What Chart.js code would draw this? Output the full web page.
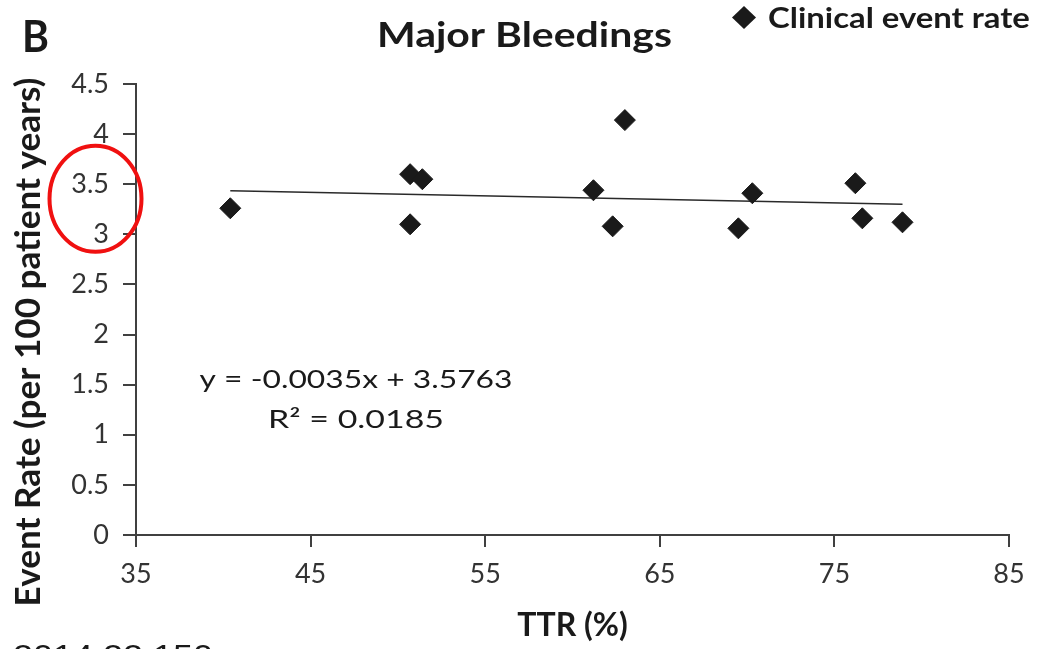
<!DOCTYPE html>
<html><head><meta charset="utf-8">
<script src="https://cdn.jsdelivr.net/npm/chart.js@4.4.0/dist/chart.umd.min.js"></script>
<style>html,body{margin:0;padding:0;background:#fff;overflow:hidden}#wrap{width:1048px;height:649px;position:relative}</style>
</head><body><div id="wrap"><canvas id="c" width="1048" height="649"></canvas></div>
<script>
// ---- data ----
const ttrValues  = [40.4, 50.7, 51.4, 50.7, 61.2, 62.3, 63.0, 69.5, 70.3, 76.2, 76.6, 78.9];
const eventRates = [3.26, 3.60, 3.55, 3.10, 3.44, 3.08, 4.14, 3.06, 3.41, 3.51, 3.16, 3.12];
const trendX = [40.4, 78.9];
const trendY = [3.435, 3.30];
const xTicks = [35, 45, 55, 65, 75, 85];
const yTicks = [0, 0.5, 1, 1.5, 2, 2.5, 3, 3.5, 4, 4.5];
const seriesName = 'Clinical event rate';
const chartTitle = 'Major Bleedings';
const panelLabel = 'B';
const xTitle = 'TTR (%)';
const yTitle = 'Event Rate (per 100 patient years)';
const equationLines = ['y = -0.0035x + 3.5763', 'R\u00B2 = 0.0185'];
const sourceNote = '2014;22:150';
const highlightRange = [3, 3.5];

const FAM = 'Lato, "Open Sans", sans-serif';
const INK = '#1a1a1a';
const AXIS = '#404040';

function drawFit(ctx, text, weight, family, x, baseline, targetW, capH, align, rot) {
  ctx.save();
  ctx.font = weight + ' 100px ' + family;
  const w100 = ctx.measureText(text).width;
  const size = 100 * targetW / w100;
  const sy = capH / (0.7165 * size);
  ctx.font = weight + ' ' + size + 'px ' + family;
  ctx.translate(x, baseline);
  if (rot) ctx.rotate(rot);
  ctx.scale(1, sy);
  ctx.textAlign = align || 'left';
  ctx.textBaseline = 'alphabetic';
  ctx.fillStyle = INK;
  ctx.fillText(text, 0, 0);
  ctx.restore();
}

const decor = {
  id: 'decor',
  afterDraw(chart) {
    const ctx = chart.ctx;
    const ys = chart.scales.y;
    drawFit(ctx, panelLabel, 'bold', FAM, 22, 52, 27, 32, 'left');
    drawFit(ctx, chartTitle, 'bold', FAM, 377, 47, 295, 25, 'left');
    ctx.save();
    ctx.fillStyle = INK;
    ctx.beginPath();
    ctx.moveTo(744 - 12, 17.5); ctx.lineTo(744, 17.5 - 11.5);
    ctx.lineTo(744 + 12, 17.5); ctx.lineTo(744, 17.5 + 11.5);
    ctx.closePath(); ctx.fill();
    ctx.restore();
    drawFit(ctx, seriesName, 'bold', FAM, 768, 28, 262, 21, 'left');
    drawFit(ctx, yTitle, 'bold', FAM, 40, 342, 529, 24, 'center', -Math.PI / 2);
    drawFit(ctx, equationLines[0], 'normal', FAM, 356, 388, 313, 18, 'center');
    drawFit(ctx, equationLines[1], 'normal', FAM, 356, 428, 176, 18, 'center');
    drawFit(ctx, sourceNote, 'normal', '"Liberation Sans", Arial, sans-serif', 13, 645 + 22, 200, 22, 'left');
    const cy = (ys.getPixelForValue(highlightRange[0]) + ys.getPixelForValue(highlightRange[1])) / 2 - 10.5;
    ctx.save();
    ctx.strokeStyle = '#f01010';
    ctx.lineWidth = 4;
    ctx.beginPath();
    ctx.ellipse(95.5, cy, 46, 53, 0, 0, Math.PI * 2);
    ctx.stroke();
    ctx.restore();
  }
};

const chart = new Chart(document.getElementById('c'), {
  type: 'scatter',
  data: {
    datasets: [
      {
        label: seriesName,
        data: ttrValues.map((x, i) => ({ x: x, y: eventRates[i] })),
        pointStyle: 'rectRot',
        pointRadius: 10.5,
        pointHoverRadius: 10.5,
        backgroundColor: INK,
        borderColor: INK,
        borderWidth: 1,
        order: 1
      },
      {
        label: 'trend',
        data: trendX.map((x, i) => ({ x: x, y: trendY[i] })),
        showLine: true,
        borderColor: '#2a2a2a',
        borderWidth: 1.6,
        pointRadius: 0,
        pointHoverRadius: 0,
        order: 2
      }
    ]
  },
  options: {
    responsive: false,
    animation: false,
    devicePixelRatio: 1,
    events: [],
    layout: { padding: { left: 0, top: 84, right: 39, bottom: 0 } },
    plugins: { legend: { display: false }, tooltip: { enabled: false }, title: { display: false } },
    scales: {
      x: {
        type: 'linear', min: 35, max: 85,
        afterBuildTicks: s => { s.ticks = xTicks.map(v => ({ value: v })); },
        afterFit: s => { s.height = 114; },
        grid: { drawOnChartArea: false, drawTicks: true, tickLength: 12, color: AXIS, lineWidth: 2 },
        border: { display: true, color: AXIS, width: 2 },
        ticks: { color: '#333', font: { family: FAM, size: 27 }, padding: 11, maxRotation: 0, autoSkip: false },
        title: { display: true, text: xTitle, color: INK, font: { family: FAM, size: 32, weight: 'bold' }, padding: { top: 0, bottom: 4 } }
      },
      y: {
        type: 'linear', min: 0, max: 4.5,
        afterBuildTicks: s => { s.ticks = yTicks.map(v => ({ value: v })); },
        afterFit: s => { s.width = 136; },
        grid: { drawOnChartArea: false, drawTicks: true, tickLength: 13, color: AXIS, lineWidth: 2 },
        border: { display: true, color: AXIS, width: 2 },
        ticks: { color: '#333', font: { family: FAM, size: 27 }, padding: 14, autoSkip: false, callback: v => String(v) }
      }
    }
  },
  plugins: [decor]
});
</script></body></html>
